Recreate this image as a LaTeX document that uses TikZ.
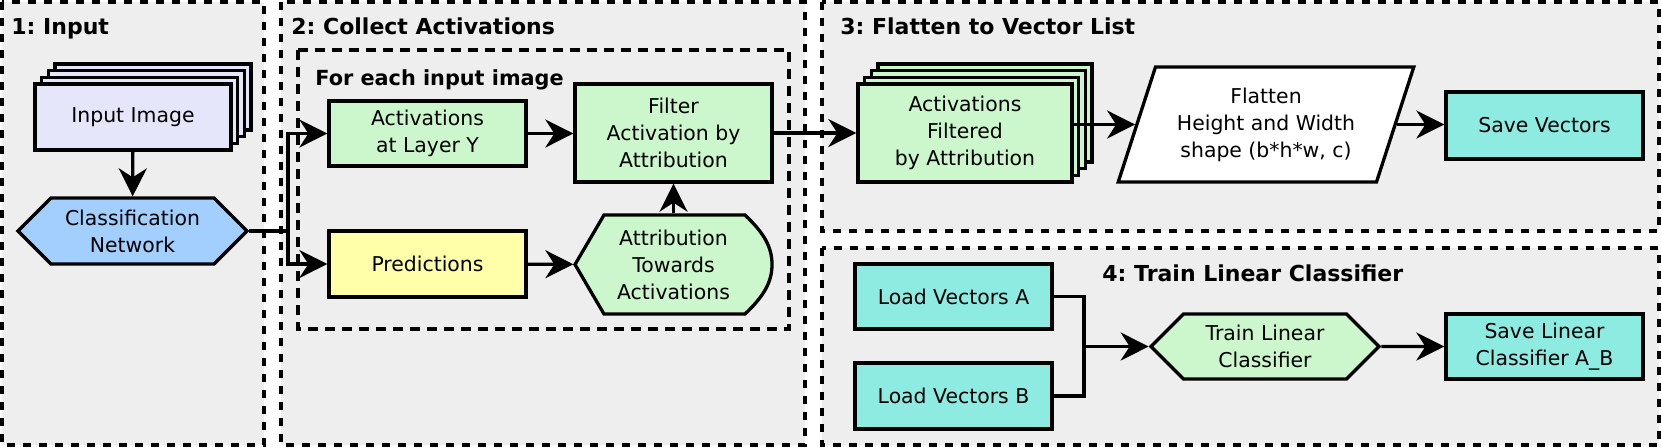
\documentclass[tikz,border=0pt]{standalone}
\usepackage{fontspec}
\setmainfont{DejaVu Sans}
\usepackage{tikz}
\usetikzlibrary{arrows.meta}
\usetikzlibrary{shapes.geometric}
\usetikzlibrary{shapes.symbols}
\usetikzlibrary{shadows}
\frenchspacing

\definecolor{panelgray}{HTML}{EEEEEE}
\definecolor{imgblue}{HTML}{E6E6FA}
\definecolor{netblue}{HTML}{A3CFFF}
\definecolor{stepgreen}{HTML}{CCF7CC}
\definecolor{predyellow}{HTML}{FFFFAA}
\definecolor{vecteal}{HTML}{8EEBE2}

\tikzset{
  panel/.style={draw, fill=panelgray, line width=1.65pt, dash pattern=on 4pt off 4pt},
  inner panel/.style={draw, line width=1.65pt, dash pattern=on 5pt off 3.5pt},
  paneltitle/.style={anchor=base west, inner sep=0pt, font=\fontsize{11}{13}\selectfont\bfseries},
  flowbox/.style={draw, line width=1.65pt, align=center, inner sep=2pt, font=\fontsize{10.2}{13.5}\selectfont},
  hexbox/.style={flowbox, shape=signal, signal to=east and west, signal pointer angle=90},
  stack/.style={
    copy shadow={shadow xshift=10.05pt, shadow yshift=10.05pt, fill=#1, draw=black, line width=1.65pt},
    copy shadow={shadow xshift=6.7pt, shadow yshift=6.7pt, fill=#1, draw=black, line width=1.65pt},
    copy shadow={shadow xshift=3.35pt, shadow yshift=3.35pt, fill=#1, draw=black, line width=1.65pt},
    fill=#1},
  arr/.style={line width=1.65pt, -{Stealth[length=14pt, width=14pt, inset=4.5pt]}},
  link/.style={line width=1.65pt}
}
\newcommand{\panelbox}[4]{\draw[panel] (#1,#2) rectangle (#3,#4);}

\begin{document}
\begin{tikzpicture}[x=0.5pt, y=-0.5pt]
  \useasboundingbox (0,0) rectangle (1661,447);

  % panels
  \panelbox{2}{2}{264}{445}
  \panelbox{281}{2}{805}{445}
  \panelbox{822}{2}{1659}{231}
  \panelbox{822}{248}{1659}{445}
  \draw[inner panel] (298,50) rectangle (789,329);

  \node[paneltitle] (t1) at (11,34) {1: Input};
  \node[paneltitle] (t2) at (291,34) {2: Collect Activations};
  \node[paneltitle, font=\fontsize{10.4}{13}\selectfont\bfseries] (t2b) at (315,85) {For each input image};
  \node[paneltitle] (t3) at (840,34) {3: Flatten to Vector List};
  \node[paneltitle] (t4) at (1102,281) {4: Train Linear Classifier};

  % 1: input
  \node[flowbox, stack=imgblue, minimum width=98pt, minimum height=33pt] (inimg) at (133,117) {Input Image};
  \node[hexbox, fill=netblue, minimum width=114.5pt, minimum height=33pt] (cnet) at (132.5,231) {Classification\\Network};

  % 2: collect activations
  \node[flowbox, fill=stepgreen, minimum width=98.5pt, minimum height=32.5pt] (act) at (427.5,133.5) {Activations\\at Layer Y};
  \node[flowbox, fill=predyellow, minimum width=98.5pt, minimum height=33pt] (pred) at (427.5,264) {Predictions};
  \node[flowbox, fill=stepgreen, minimum width=98.5pt, minimum height=49pt] (filt) at (673.5,133) {Filter\\Activation by\\Attribution};
  \draw[link, fill=stepgreen] (575,264.5) -- (604,215) -- (745,215)
    .. controls (764,233) and (772,247) .. (772,264.5)
    .. controls (772,282) and (764,296) .. (745,314) -- (604,314) -- cycle;
  \node[flowbox, draw=none, minimum width=98.5pt, minimum height=49.5pt] (attr) at (673.5,264.5) {Attribution\\Towards\\Activations};

  % 3: flatten
  \node[flowbox, stack=stepgreen, minimum width=107pt, minimum height=49pt] (actf) at (965,133) {Activations\\Filtered\\by Attribution};
  \node[flowbox, trapezium, trapezium left angle=69, trapezium right angle=111, trapezium stretches=true,
        fill=white, minimum width=148pt, minimum height=57.5pt] (flat) at (1266,124.5) {Flatten\\Height and Width\\shape (b*h*w, c)};
  \node[flowbox, fill=vecteal, minimum width=98.5pt, minimum height=33.5pt] (savev) at (1544.5,125.5) {Save Vectors};

  % 4: train
  \node[flowbox, fill=vecteal, minimum width=98.5pt, minimum height=32.5pt] (loada) at (953.5,296.5) {Load Vectors A};
  \node[flowbox, fill=vecteal, minimum width=98.5pt, minimum height=33pt] (loadb) at (953.5,396) {Load Vectors B};
  \node[hexbox, fill=stepgreen, minimum width=114pt, minimum height=32.5pt] (train) at (1265,346.5) {Train Linear\\Classifier};
  \node[flowbox, fill=vecteal, minimum width=98.5pt, minimum height=32.5pt] (savelc) at (1544.5,346.5) {Save Linear\\Classifier A\_B};

  % connectors
  \coordinate (split) at (288,231);
  \coordinate (join) at (1084,346.5);
  \draw[arr] (inimg) -- (cnet);
  \draw[link] (cnet.east) -- (split);
  \draw[arr] (split) |- (act.west);
  \draw[arr] (split) |- (pred.west);
  \draw[arr] (act.east) -- (act.east -| filt.west);
  \draw[arr] (pred) -- (attr);
  \draw[arr] (attr.north) -- (filt.south);
  \draw[arr] (filt) -- (actf);
  \draw[arr] (actf.east |- flat.west) -- (flat.west);
  \draw[arr] (flat.east) -- (flat.east -| savev.west);
  \draw[link] (loada.east) -| (join);
  \draw[link] (loadb.east) -| (join);
  \draw[arr] (join) -- (train.west);
  \draw[arr] (train) -- (savelc);
\end{tikzpicture}
\end{document}
